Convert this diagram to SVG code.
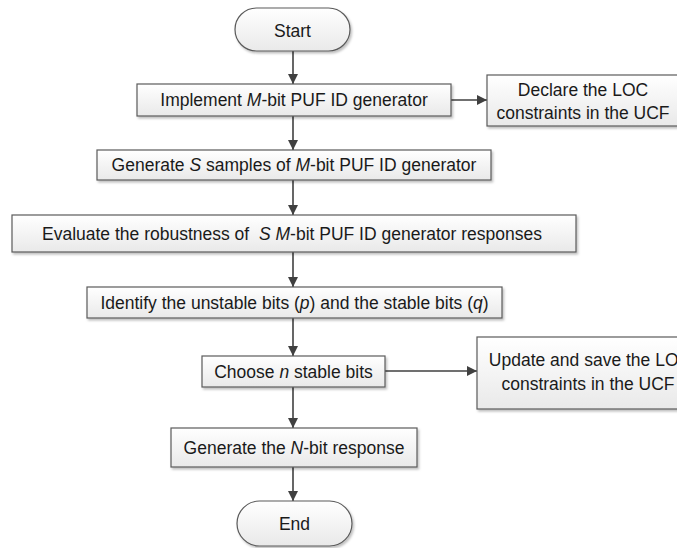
<svg xmlns="http://www.w3.org/2000/svg" width="677" height="548" viewBox="0 0 677 548">
<defs>
<linearGradient id="g" x1="0" y1="0" x2="0" y2="1">
<stop offset="0" stop-color="#ffffff"/>
<stop offset="1" stop-color="#e9e9e9"/>
</linearGradient>
<filter id="sh" x="-10%" y="-20%" width="130%" height="160%">
<feDropShadow dx="1.5" dy="2" stdDeviation="1.2" flood-color="#000" flood-opacity="0.25"/>
</filter>
<marker id="ah" markerWidth="10" markerHeight="10" viewBox="0 0 10 10" refX="10" refY="5" orient="auto" markerUnits="userSpaceOnUse">
<path d="M0,0 L10,5 L0,10 Z" fill="#404040"/>
</marker>
<style>
.box{fill:url(#g);stroke:#5a5a5a;stroke-width:1.2;filter:url(#sh)}
.t{font-family:"Liberation Sans",Arial,sans-serif;font-size:17.5px;fill:#1a1a1a;text-anchor:middle}
.i{font-style:italic}
.c{stroke:#404040;stroke-width:1.6;fill:none;marker-end:url(#ah)}
</style>
</defs>
<rect width="677" height="548" fill="#ffffff"/>
<g id="connectors">
<line class="c" x1="293" y1="51" x2="293" y2="84"/>
<line class="c" x1="293" y1="116" x2="293" y2="150"/>
<line class="c" x1="293" y1="180" x2="293" y2="215"/>
<line class="c" x1="293" y1="252" x2="293" y2="287"/>
<line class="c" x1="293" y1="318" x2="293" y2="356"/>
<line class="c" x1="293" y1="387" x2="293" y2="428"/>
<line class="c" x1="293" y1="467" x2="293" y2="501"/>
<line class="c" x1="451" y1="100" x2="487" y2="100"/>
<line class="c" x1="385" y1="371" x2="477" y2="371"/>
</g>
<g id="start">
<rect class="box" x="235" y="8" width="115" height="43" rx="21.5"/>
<text class="t" x="292.5" y="37">Start</text>
</g>
<g id="implement">
<rect class="box" x="137" y="84" width="314" height="32"/>
<text class="t" x="294" y="106">Implement <tspan class="i">M</tspan>-bit PUF ID generator</text>
</g>
<g id="declare">
<rect class="box" x="487" y="75" width="195" height="51"/>
<text class="t" x="583" y="96">Declare the LOC</text>
<text class="t" x="583" y="119">constraints in the UCF</text>
</g>
<g id="generate-samples">
<rect class="box" x="97" y="150" width="394" height="30"/>
<text class="t" x="294" y="171">Generate <tspan class="i">S</tspan> samples of <tspan class="i">M</tspan>-bit PUF ID generator</text>
</g>
<g id="evaluate">
<rect class="box" x="12" y="215" width="564" height="37"/>
<text class="t" x="292" y="240" xml:space="preserve">Evaluate the robustness of  <tspan class="i">S M</tspan>-bit PUF ID generator responses</text>
</g>
<g id="identify">
<rect class="box" x="87" y="287" width="415" height="31"/>
<text class="t" x="294.5" y="309">Identify the unstable bits (<tspan class="i">p</tspan>) and the stable bits (<tspan class="i">q</tspan>)</text>
</g>
<g id="choose">
<rect class="box" x="202" y="356" width="183" height="31"/>
<text class="t" x="293.5" y="378">Choose <tspan class="i">n</tspan> stable bits</text>
</g>
<g id="update">
<rect class="box" x="477" y="337" width="215" height="72"/>
<text class="t" x="590" y="366">Update and save the LOC</text>
<text class="t" x="588" y="390">constraints in the UCF</text>
</g>
<g id="generate-response">
<rect class="box" x="171" y="428" width="246" height="39"/>
<text class="t" x="294" y="454">Generate the <tspan class="i">N</tspan>-bit response</text>
</g>
<g id="end">
<rect class="box" x="237" y="501" width="115" height="45" rx="22.5"/>
<text class="t" x="294.5" y="530">End</text>
</g>
</svg>
